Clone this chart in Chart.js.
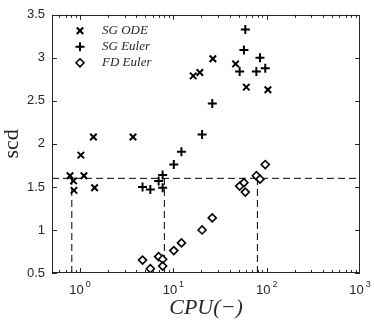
<!DOCTYPE html>
<html>
<head>
<meta charset="utf-8">
<script src="https://cdn.jsdelivr.net/npm/chart.js"></script>
<style>
  body { margin: 0; background: #fff; }
  #wrap { width: 374px; height: 323px; }
</style>
</head>
<body>
<div id="wrap"><canvas id="scd-cpu-chart" width="374" height="323"></canvas></div>
<script>
// values: CPU time (-) against scd
var odeCpu = [0.78, 0.85, 0.86, 1.10, 1.43, 1.02, 1.39, 3.69, 16.3, 19.2, 26.5, 46.4, 60.5, 103];
var odeScd = [1.63, 1.57, 1.46, 1.63, 1.49, 1.87, 2.08, 2.08, 2.79, 2.83, 2.99, 2.93, 2.66, 2.63];

// SG Euler and FD Euler were run at the same CPU cost
var eulerCpu = [4.67, 5.66, 6.95, 7.67, 7.67, 10.1, 12.2, 20.3, 26.1, 51.3, 57.0, 59.0, 77.5, 84.7, 96.5];
var sgEulerScd = [1.50, 1.47, 1.57, 1.64, 1.49, 1.76, 1.91, 2.11, 2.47, 2.84, 3.09, 3.33, 2.84, 3.00, 2.88];
var fdEulerScd = [0.65, 0.55, 0.69, 0.66, 0.58, 0.76, 0.85, 1.00, 1.14, 1.51, 1.55, 1.44, 1.63, 1.59, 1.76];

// dashed guide: scd level and the CPU where each method reaches it
var scdLevel = 1.6;
var levelCpu = [0.815, 8.0, 79.5];

// axis ticks
var cpuDecades = [1, 10, 100, 1000];
var scdTicks = [0.5, 1, 1.5, 2, 2.5, 3, 3.5];
var cpuMin = 0.5, cpuMax = 1000;

var sansFont = '"Liberation Sans", Arial, Helvetica, sans-serif';
var serifFont = '"Liberation Serif", "Times New Roman", serif';
var inkColor = '#262626';

function toPoints(xs, ys) {
    return xs.map(function (x, i) { return { x: x, y: ys[i] }; });
}

var datasets = [
    {
        label: 'SG ODE',
        data: toPoints(odeCpu, odeScd),
        showLine: false,
        pointStyle: 'crossRot',
        pointRadius: 4.6,
        pointBorderWidth: 2,
        borderColor: '#000',
        backgroundColor: '#000'
    },
    {
        label: 'SG Euler',
        data: toPoints(eulerCpu, sgEulerScd),
        showLine: false,
        pointStyle: 'cross',
        pointRadius: 4.5,
        pointBorderWidth: 2,
        borderColor: '#000',
        backgroundColor: '#000'
    },
    {
        label: 'FD Euler',
        data: toPoints(eulerCpu, fdEulerScd),
        showLine: false,
        pointStyle: 'rectRot',
        pointRadius: 4,
        pointBorderWidth: 1.6,
        borderColor: '#000',
        backgroundColor: '#fff'
    }
];

// horizontal guide across the whole axis
datasets.push({
    label: '',
    isGuide: true,
    data: [{ x: cpuMin, y: scdLevel }, { x: cpuMax, y: scdLevel }],
    showLine: true,
    pointRadius: 0,
    borderColor: '#000',
    borderWidth: 1,
    borderDash: [7, 4]
});

// vertical guides down to the x axis
levelCpu.forEach(function (c) {
    datasets.push({
        label: '',
        isGuide: true,
        data: [{ x: c, y: scdTicks[0] }, { x: c, y: scdLevel }],
        showLine: true,
        pointRadius: 0,
        borderColor: '#000',
        borderWidth: 1,
        borderDash: [7, 4]
    });
});

// box, inward ticks, 10^n labels and the legend
var matlabAxes = {
    id: 'matlabAxes',
    afterDraw: function (chart) {
        var ctx = chart.ctx;
        var a = chart.chartArea;
        var xs = chart.scales.x;
        var ys = chart.scales.y;

        ctx.save();
        ctx.strokeStyle = inkColor;
        ctx.lineWidth = 1;
        ctx.beginPath();

        [0.1, 1, 10, 100].forEach(function (d) {
            for (var m = 1; m <= 9; m++) {
                var v = d * m;
                if (v < cpuMin || v > cpuMax) continue;
                var px = Math.round(xs.getPixelForValue(v)) + 0.5;
                var len = (m === 1) ? 5 : 3;
                ctx.moveTo(px, a.bottom);
                ctx.lineTo(px, a.bottom - len);
                ctx.moveTo(px, a.top);
                ctx.lineTo(px, a.top + len);
            }
        });

        scdTicks.forEach(function (v) {
            var py = Math.round(ys.getPixelForValue(v)) + 0.5;
            ctx.moveTo(a.left, py);
            ctx.lineTo(a.left + 5, py);
            ctx.moveTo(a.right, py);
            ctx.lineTo(a.right - 5, py);
        });
        ctx.stroke();

        ctx.strokeRect(Math.round(a.left) + 0.5, Math.round(a.top) + 0.5,
            Math.round(a.right - a.left) - 1, Math.round(a.bottom - a.top) - 1);

        // 10^n tick labels
        ctx.fillStyle = inkColor;
        ctx.textBaseline = 'alphabetic';
        ctx.textAlign = 'left';
        cpuDecades.forEach(function (v) {
            var px = xs.getPixelForValue(v);
            var exp = String(Math.round(Math.log10(v)));
            ctx.font = '13px ' + sansFont;
            var wBase = ctx.measureText('10').width;
            ctx.font = '9px ' + sansFont;
            var wExp = ctx.measureText(exp).width;
            var start = px - (wBase + 2 + wExp) / 2;
            ctx.font = '13px ' + sansFont;
            ctx.fillText('10', start, a.bottom + 21);
            ctx.font = '9px ' + sansFont;
            ctx.fillText(exp, start + wBase + 2, a.bottom + 14);
        });

        // legend inside the axes
        var row = 0;
        chart.data.datasets.forEach(function (ds) {
            if (ds.isGuide) return;
            var ly = a.top + 16 + row * 16;
            var lx = a.left + 28;
            ctx.strokeStyle = ds.borderColor;
            ctx.fillStyle = ds.backgroundColor;
            ctx.lineWidth = ds.pointBorderWidth;
            Chart.helpers.drawPoint(ctx, {
                pointStyle: ds.pointStyle,
                radius: ds.pointRadius,
                borderWidth: ds.pointBorderWidth,
                rotation: 0
            }, lx, ly);
            ctx.fillStyle = inkColor;
            ctx.font = 'italic 13px ' + serifFont;
            ctx.textBaseline = 'middle';
            ctx.fillText(ds.label, a.left + 50, ly);
            row++;
        });
        ctx.restore();
    }
};

var chartCanvas = document.getElementById('scd-cpu-chart');

new Chart(chartCanvas, {
    type: 'scatter',
    data: { datasets: datasets },
    options: {
        responsive: false,
        animation: false,
        events: [],
        layout: { padding: { top: 9, right: 14, left: 0, bottom: 0 } },
        plugins: {
            legend: { display: false },
            tooltip: { enabled: false }
        },
        scales: {
            x: {
                type: 'logarithmic',
                min: cpuMin,
                max: cpuMax,
                grid: { display: false },
                border: { display: false },
                ticks: { display: false },
                title: {
                    display: true,
                    text: 'CPU(\u2212)',
                    color: inkColor,
                    font: { family: serifFont, size: 22, style: 'italic', lineHeight: 1 },
                    padding: { top: 0, bottom: 4 }
                },
                afterFit: function (scale) { scale.height = 50; }
            },
            y: {
                min: 0.5,
                max: 3.5,
                grid: { display: false, drawTicks: false },
                border: { display: false },
                afterBuildTicks: function (scale) {
                    scale.ticks = scdTicks.map(function (v) { return { value: v }; });
                },
                ticks: {
                    color: inkColor,
                    padding: 7,
                    font: { family: sansFont, size: 13 },
                    callback: function (value) { return String(value); }
                },
                title: {
                    display: true,
                    text: 'scd',
                    color: inkColor,
                    font: { family: serifFont, size: 22, lineHeight: 1 },
                    padding: { top: 1, bottom: 0 }
                },
                afterFit: function (scale) { scale.width = 52; }
            }
        }
    },
    plugins: [matlabAxes]
});
</script>
</body>
</html>
